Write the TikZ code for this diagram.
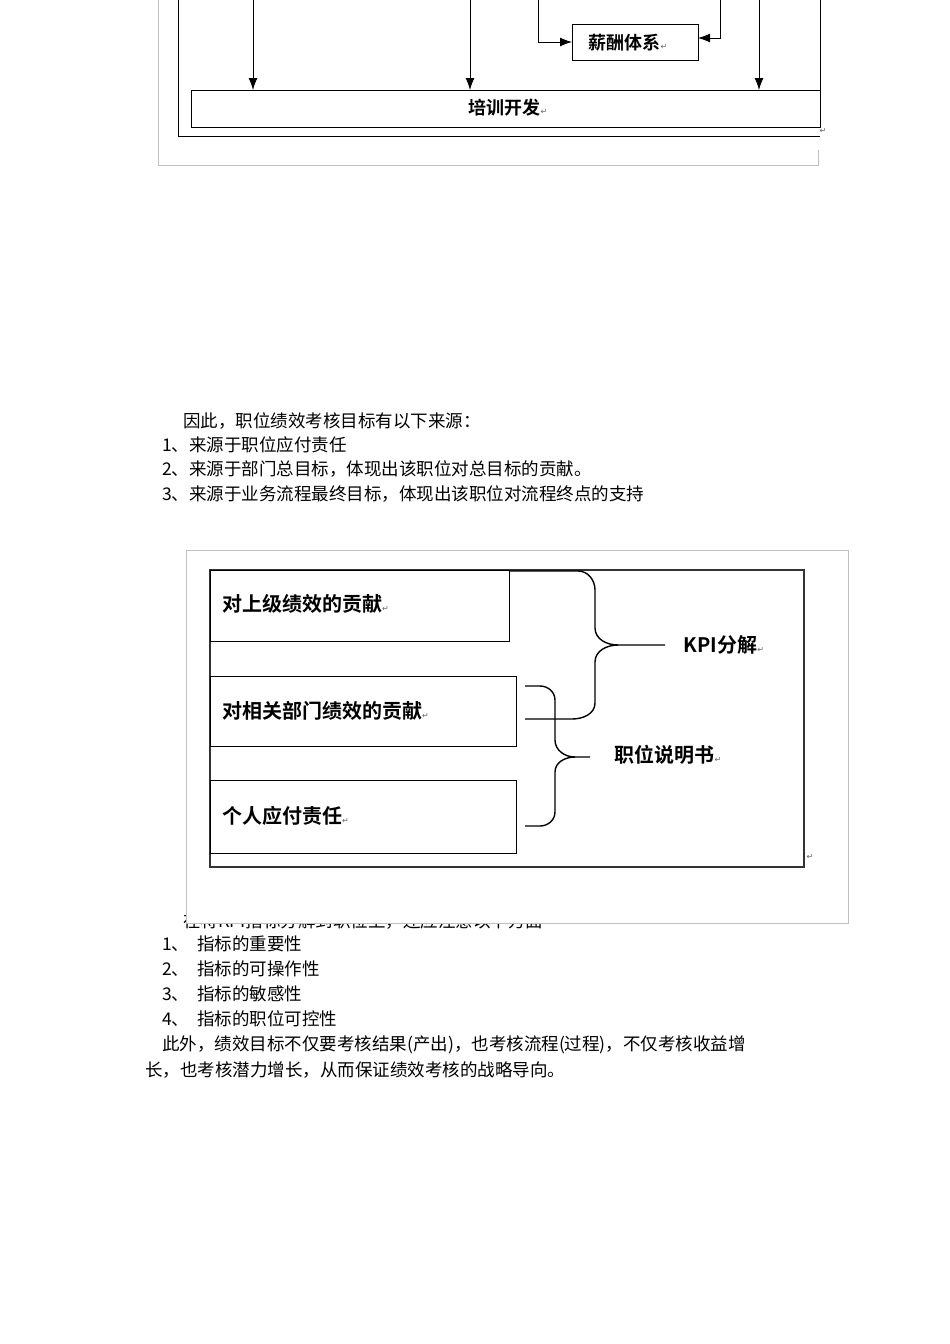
\documentclass[tikz,border=0pt]{standalone}
\usepackage{fontspec}
\usetikzlibrary{arrows.meta}
\newfontfamily\cjk{Noto Sans CJK SC}
\newfontfamily\cjkb{Noto Sans CJK SC Bold}
\newfontfamily\djfont{DejaVu Sans}
\newcommand{\pmk}{{\djfont\fontsize{8}{8}\selectfont\color{black!60}↵}}
\begin{document}
\begin{tikzpicture}[x=1pt,y=-1pt,
 body/.style={anchor=west,inner sep=0pt,font=\cjk\fontsize{17.5}{17.5}\selectfont},
 lbl/.style={inner sep=0pt,font=\cjkb\fontsize{20}{20}\selectfont},
 arr/.style={-{Latex[length=12pt,width=9pt]},line width=0.9pt},
 box/.style={draw,line width=1pt,fill=white,inner sep=0pt},
 gray/.style={draw=black!25,line width=0.6pt}]
\useasboundingbox (0,0) rectangle (950,1344);
\fill[white] (0,0) rectangle (950,1344);
% top diagram
\draw[gray] (158,0) -- (158,165) -- (818,165) -- (818,150);
\draw[line width=1pt] (178,0) -- (178,136) -- (820,136);
\draw[line width=1pt] (820,0) -- (820,127);
\node[box,minimum width=629pt,minimum height=37pt,anchor=north west] (train) at (191,90) {};
\node[lbl,font=\cjkb\fontsize{18}{18}\selectfont] at (508,108) {培训开发\pmk};
\node[box,minimum width=126pt,minimum height=36pt,anchor=north west] (pay) at (572,24) {};
\node[lbl,font=\cjkb\fontsize{18}{18}\selectfont] at (628,43) {薪酬体系\pmk};
\coordinate (a1) at (253,0); \coordinate (a2) at (470,0); \coordinate (a3) at (759,0);
\coordinate (p1) at (538,0); \coordinate (p2) at (720,0);
\draw[arr] (a1) -- (a1 |- train.north);
\draw[arr] (a2) -- (a2 |- train.north);
\draw[arr] (a3) -- (a3 |- train.north);
\draw[arr] (p1) |- (572,42);
\draw[arr] (p2) |- (698,38);
\node at (823,131) {\pmk};
% text
\node[body] (t0) at (183,421) {因此，职位绩效考核目标有以下来源：};
\node[body] (t1) at (162,445) {1、来源于职位应付责任};
\node[body] (t2) at (162,469) {2、来源于部门总目标，体现出该职位对总目标的贡献。};
\node[body] (t3) at (162,494) {3、来源于业务流程最终目标，体现出该职位对流程终点的支持};
\node[body] (t4) at (183,921) {在将KPI指标分解到职位上，还应注意以下方面};
\node[body] (t5) at (162,944) {1、\ \ 指标的重要性};
\node[body] (t6) at (162,969) {2、\ \ 指标的可操作性};
\node[body] (t7) at (162,994) {3、\ \ 指标的敏感性};
\node[body] (t8) at (162,1019) {4、\ \ 指标的职位可控性};
\node[body] (t9) at (162,1045) {此外，绩效目标不仅要考核结果(产出)，也考核流程(过程)，不仅考核收益增};
\node[body] (t10) at (145,1070) {长，也考核潜力增长，从而保证绩效考核的战略导向。};
% second diagram
\filldraw[fill=white,draw=black!25,line width=0.6pt] (186,550) rectangle (848,923);
\draw[line width=1.8pt,draw=black!80] (210,570) rectangle (804,867);
\node[box,minimum width=299pt,minimum height=71pt,anchor=north west] (b1) at (210,570) {};
\node[box,minimum width=306pt,minimum height=70pt,anchor=north west] (b2) at (210,676) {};
\node[box,minimum width=306pt,minimum height=73pt,anchor=north west] (b3) at (210,780) {};
\node[lbl,anchor=west] at (222,604) {对上级绩效的贡献\pmk};
\node[lbl,anchor=west] at (222,711) {对相关部门绩效的贡献\pmk};
\node[lbl,anchor=west] at (222,816) {个人应付责任\pmk};
\node[lbl] (kpi) at (724,645) {KPI分解\pmk};
\node[lbl] (job) at (668,755) {职位说明书\pmk};
\node at (810,857) {\pmk};
\draw[line width=1.4pt] (509,571) -- (578,571) to[out=0,in=90] (595,590) -- (595,628) to[out=-90,in=180] (618,645) -- (665,645);
\draw[line width=1.4pt] (618,645) to[out=180,in=90] (595,662) -- (595,703) to[out=-90,in=0] (572,719) -- (525,719);
\draw[line width=1.4pt] (525,686) -- (540,686) to[out=0,in=90] (555,700) -- (555,740) to[out=-90,in=180] (575,757) -- (590,757);
\draw[line width=1.4pt] (575,757) to[out=180,in=90] (555,772) -- (555,812) to[out=-90,in=0] (540,826) -- (525,826);
\end{tikzpicture}
\end{document}
